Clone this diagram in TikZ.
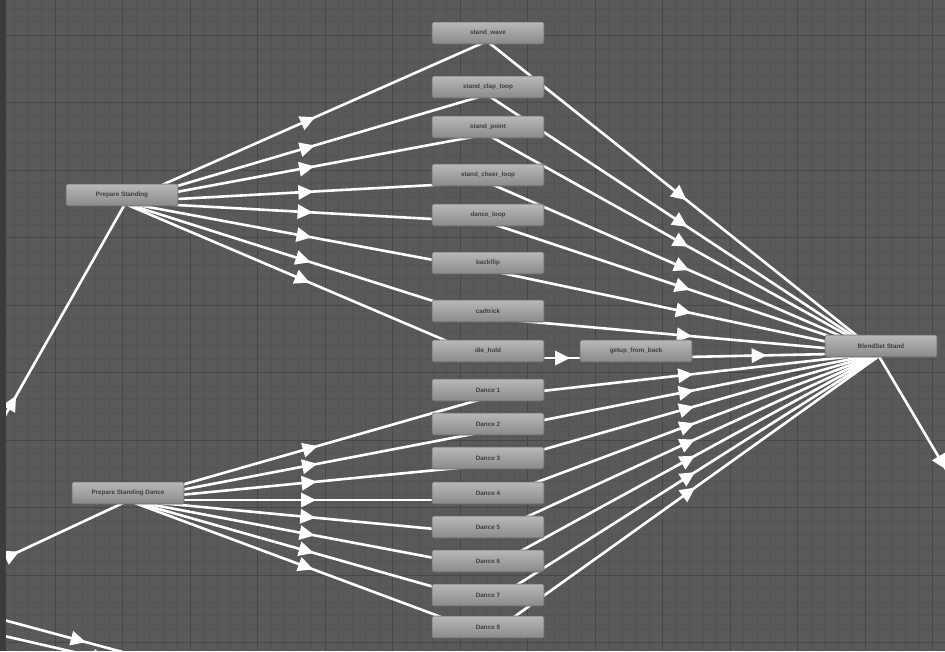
\documentclass[tikz,border=0pt]{standalone}
\usepackage{fontspec}
\setmainfont{Liberation Sans}
\usetikzlibrary{decorations.markings,calc}
\pgfdeclarelayer{bg}
\pgfdeclarelayer{edges}
\pgfsetlayers{bg,edges,main}
\definecolor{bgc}{HTML}{595959}
\definecolor{minorc}{HTML}{535353}
\definecolor{majorc}{HTML}{474747}
\definecolor{stripc}{HTML}{3C3C3C}
\definecolor{nodetop}{HTML}{B8B8B8}
\definecolor{nodebot}{HTML}{8A8A8A}
\definecolor{nodeedge}{HTML}{666666}
\definecolor{txtc}{HTML}{3E3E3E}
\tikzset{
  statebox/.style={rectangle, rounded corners=1.5pt, draw=nodeedge, line width=0.6pt,
    top color=nodetop, bottom color=nodebot, minimum width=112pt, minimum height=22pt,
    inner sep=0pt, font=\fontsize{6.3}{7}\selectfont\bfseries, text=txtc},
  trplain/.style={draw=white, line width=2.6pt, postaction=decorate,
    decoration={markings, mark=at position 0.5 with {\fill[white] (8pt,0pt) -- (-7pt,7.5pt) -- (-7pt,-7.5pt) -- cycle;}}},
  tr/.style={trplain,
    to path={($(\tikztostart)!7pt!-90:(\tikztotarget)$) -- ($(\tikztotarget)!7pt!90:(\tikztostart)$)}},
  minorline/.style={draw=minorc, line width=0.6pt},
  majorline/.style={draw=majorc, line width=1pt}
}
\begin{document}
\begin{tikzpicture}[x=1pt,y=-1pt]
\useasboundingbox (0,0) rectangle (945,651);
% nodes
\node[statebox] (ps)  at (122,195) {Prepare Standing};
\node[statebox] (psd) at (128,493) {Prepare Standing Dance};
\node[statebox] (sw)  at (488,33)  {stand\_wave};
\node[statebox] (scl) at (488,87)  {stand\_clap\_loop};
\node[statebox] (sp)  at (488,127) {stand\_point};
\node[statebox] (sch) at (488,175) {stand\_cheer\_loop};
\node[statebox] (dl)  at (488,215) {dance\_loop};
\node[statebox] (bf)  at (488,263) {backflip};
\node[statebox] (ct)  at (488,311) {cadtrick};
\node[statebox] (dh)  at (488,351) {die\_hold};
\node[statebox] (d1)  at (488,390) {Dance 1};
\node[statebox] (d2)  at (488,424) {Dance 2};
\node[statebox] (d3)  at (488,458) {Dance 3};
\node[statebox] (d4)  at (488,493) {Dance 4};
\node[statebox] (d5)  at (488,527) {Dance 5};
\node[statebox] (d6)  at (488,561) {Dance 6};
\node[statebox] (d7)  at (488,595) {Dance 7};
\node[statebox] (d8)  at (488,627) {Dance 8};
\node[statebox] (gu)  at (636,351) {getup\_from\_back};
\node[statebox] (bs)  at (881,346) {BlendSet Stand};
\coordinate (offL) at (-110,604);
\coordinate (offBR) at (1015,572);
\coordinate (bla) at (-100,592);
\coordinate (blb) at (256,688);
\coordinate (bl2a) at (-100,612);
\coordinate (bl2b) at (300,704);
% background grid
\begin{pgfonlayer}{bg}
\clip (0,0) rectangle (945,651);
\fill[bgc] (0,0) rectangle (945,651);
\foreach \i in {0,...,70} {\draw[minorline] ({1+13.5*\i},0) -- ({1+13.5*\i},651);}
\foreach \i in {0,...,48} {\draw[minorline] (0,{8+13.5*\i}) -- (945,{8+13.5*\i});}
\foreach \i in {0,...,14} {\draw[majorline] ({-12.5+67.5*\i},0) -- ({-12.5+67.5*\i},651);}
\foreach \i in {0,...,10} {\draw[majorline] (0,{-32.5+67.5*\i}) -- (945,{-32.5+67.5*\i});}
\fill[stripc] (0,0) rectangle (6,651);
\end{pgfonlayer}
% transitions
\begin{pgfonlayer}{edges}
\clip (6,0) rectangle (945,651);
\foreach \t in {sw,scl,sp,sch,dl,bf,ct} {
  \draw[tr] (ps.center) to (\t.center);
  \draw[tr] (\t.center) to (bs.center);
}
\draw[tr] (ps.center) to (dh.center);
\draw[tr] (dh.center) to (gu.center);
\draw[tr] (gu.center) to (bs.center);
\foreach \t in {d1,d2,d3,d4,d5,d6,d7,d8} {
  \draw[tr] (psd.center) to (\t.center);
  \draw[tr] (\t.center) to (bs.center);
}
\draw[tr] (offL) to (ps.center);
\draw[tr] (offL) to (psd.center);
\draw[tr] (bs.center) to (offBR);
\draw[trplain] (bla) -- (blb);
\draw[trplain] (bl2a) -- (bl2b);
\end{pgfonlayer}
\end{tikzpicture}
\end{document}
